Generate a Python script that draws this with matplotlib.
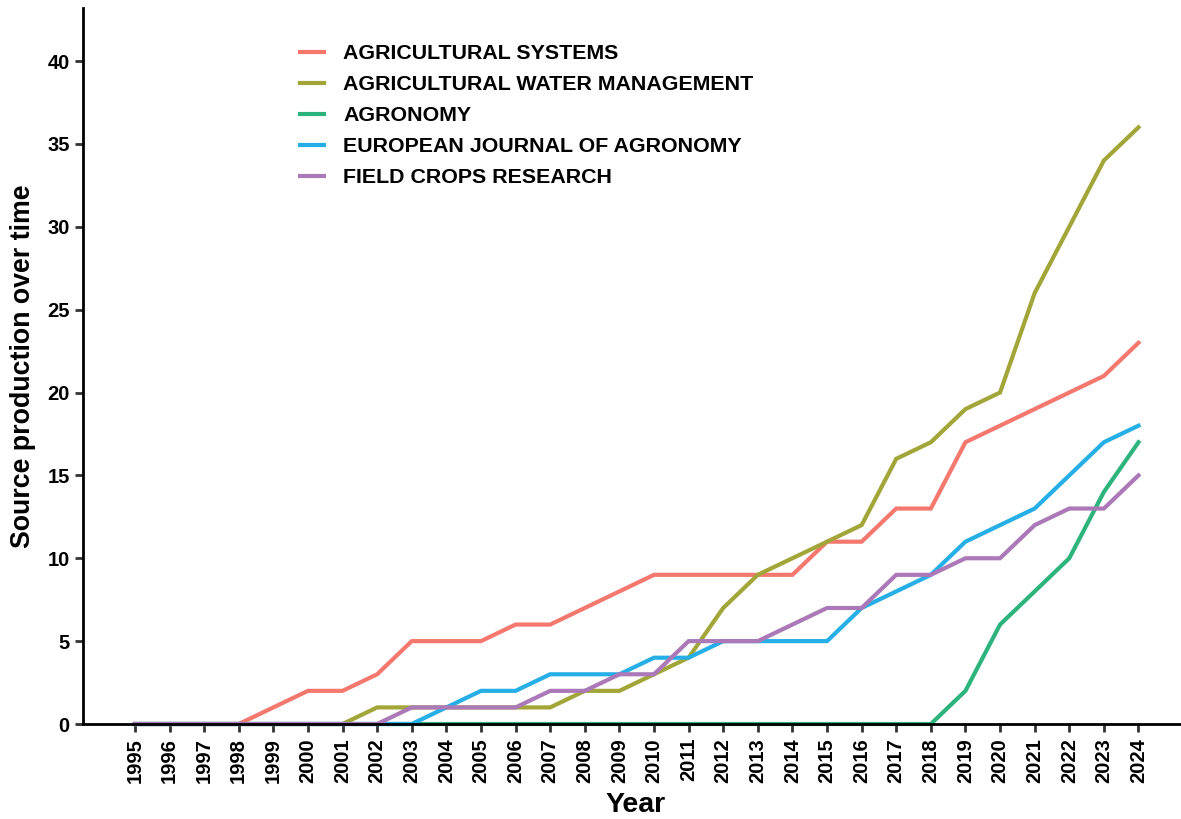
"""
Source production over time for five agronomy journals.
"""

import numpy as np
import matplotlib
matplotlib.use("Agg")
import matplotlib.pyplot as plt

# ── data ──────────────────────────────────────────────────────────────────────
YEARS = list(range(1995, 2025))

AGRI_SYSTEMS = [0, 0, 0, 0, 1, 2, 2, 3, 5, 5, 5, 6, 6, 7, 8,
                9, 9, 9, 9, 9, 11, 11, 13, 13, 17, 18, 19, 20, 21, 23]
AGRI_WATER   = [0, 0, 0, 0, 0, 0, 0, 1, 1, 1, 1, 1, 1, 2, 2,
                3, 4, 7, 9, 10, 11, 12, 16, 17, 19, 20, 26, 30, 34, 36]
AGRONOMY     = [0, 0, 0, 0, 0, 0, 0, 0, 0, 0, 0, 0, 0, 0, 0,
                0, 0, 0, 0, 0, 0, 0, 0, 0, 2, 6, 8, 10, 14, 17]
EUR_J_AGRON  = [0, 0, 0, 0, 0, 0, 0, 0, 0, 1, 2, 2, 3, 3, 3,
                4, 4, 5, 5, 5, 5, 7, 8, 9, 11, 12, 13, 15, 17, 18]
FIELD_CROPS  = [0, 0, 0, 0, 0, 0, 0, 0, 1, 1, 1, 1, 2, 2, 3,
                3, 5, 5, 5, 6, 7, 7, 9, 9, 10, 10, 12, 13, 13, 15]

SERIES = [
    ("AGRICULTURAL SYSTEMS",           AGRI_SYSTEMS, "#F5786F"),
    ("AGRICULTURAL WATER MANAGEMENT",  AGRI_WATER,   "#A2A537"),
    ("AGRONOMY",                       AGRONOMY,     "#2DB47C"),
    ("EUROPEAN JOURNAL OF AGRONOMY",   EUR_J_AGRON,  "#26AEE6"),
    ("FIELD CROPS RESEARCH",           FIELD_CROPS,  "#AB78B8"),
]
# ──────────────────────────────────────────────────────────────────────────────

plt.rcParams["font.family"] = ["Liberation Sans", "DejaVu Sans"]
plt.rcParams["font.weight"] = "bold"

fig = plt.figure(figsize=(11.81, 8.19), dpi=100)
ax = fig.add_axes([83 / 1181, 95 / 819, 1097 / 1181, 716 / 819])

for name, vals, color in SERIES:
    ax.plot(YEARS, vals, color=color, linewidth=3, label=name,
            solid_joinstyle="miter", clip_on=False)

ax.set_xlim(1993.5, 2025.2)
ax.set_ylim(0, 43.2)
ax.set_xticks(YEARS)
ax.set_xticklabels([str(y) for y in YEARS], rotation=90, fontsize=14.5,
                   fontweight="bold")
ax.set_yticks(range(0, 45, 5))
ax.set_yticklabels([str(v) for v in range(0, 45, 5)], fontsize=14.5,
                   fontweight="bold")
ax.tick_params(axis="both", length=6, width=2, color="#333333")
ax.tick_params(axis="x", pad=4)

for side in ("top", "right"):
    ax.spines[side].set_visible(False)
for side in ("left", "bottom"):
    ax.spines[side].set_linewidth(2)
    ax.spines[side].set_color("black")

ax.set_xlabel("Year", fontsize=20.5, fontweight="bold")
ax.xaxis.set_label_coords(0.504, -0.095)
ax.set_ylabel("Source production over time", fontsize=19.3, fontweight="bold",
              labelpad=8)

leg = ax.legend(loc="upper left", bbox_to_anchor=(0.19, 0.961), frameon=False,
                fontsize=15.4, handlelength=1.12, handletextpad=0.89,
                labelspacing=0.56, borderaxespad=0)
for line in leg.get_lines():
    line.set_linewidth(3)

fig.savefig("out.png", dpi=100)
plt.close(fig)
